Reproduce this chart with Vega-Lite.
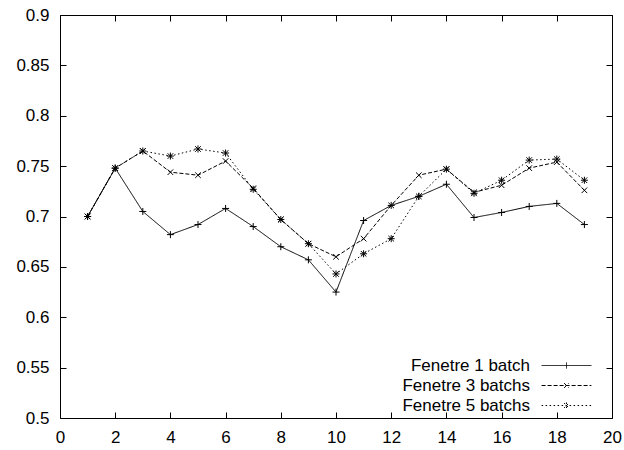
{
  "$schema": "https://vega.github.io/schema/vega-lite/v6.json",
  "width": 552,
  "height": 403,
  "autosize": {"type": "none"},
  "padding": {"left": 60, "top": 15, "right": 12, "bottom": 32},
  "background": "white",
  "config": {
    "font": "Liberation Sans",
    "view": {"stroke": "black", "strokeWidth": 1},
    "axis": {"domain": false, "grid": false, "labelFont": "Liberation Sans", "labelFontSize": 17, "labelColor": "black", "tickColor": "black", "tickSize": -6, "tickWidth": 1, "title": null},
    "point": {"filled": false, "stroke": "black", "strokeWidth": 1, "size": 49, "opacity": 1}
  },
  "data": {"values": [
    {"x": 1, "v": 0.700, "s": "Fenetre 1 batch"},
    {"x": 2, "v": 0.748, "s": "Fenetre 1 batch"},
    {"x": 3, "v": 0.705, "s": "Fenetre 1 batch"},
    {"x": 4, "v": 0.682, "s": "Fenetre 1 batch"},
    {"x": 5, "v": 0.692, "s": "Fenetre 1 batch"},
    {"x": 6, "v": 0.708, "s": "Fenetre 1 batch"},
    {"x": 7, "v": 0.690, "s": "Fenetre 1 batch"},
    {"x": 8, "v": 0.670, "s": "Fenetre 1 batch"},
    {"x": 9, "v": 0.657, "s": "Fenetre 1 batch"},
    {"x": 10, "v": 0.625, "s": "Fenetre 1 batch"},
    {"x": 11, "v": 0.696, "s": "Fenetre 1 batch"},
    {"x": 12, "v": 0.711, "s": "Fenetre 1 batch"},
    {"x": 13, "v": 0.720, "s": "Fenetre 1 batch"},
    {"x": 14, "v": 0.732, "s": "Fenetre 1 batch"},
    {"x": 15, "v": 0.699, "s": "Fenetre 1 batch"},
    {"x": 16, "v": 0.704, "s": "Fenetre 1 batch"},
    {"x": 17, "v": 0.710, "s": "Fenetre 1 batch"},
    {"x": 18, "v": 0.713, "s": "Fenetre 1 batch"},
    {"x": 19, "v": 0.692, "s": "Fenetre 1 batch"},
    {"x": 1, "v": 0.700, "s": "Fenetre 3 batchs"},
    {"x": 2, "v": 0.748, "s": "Fenetre 3 batchs"},
    {"x": 3, "v": 0.765, "s": "Fenetre 3 batchs"},
    {"x": 4, "v": 0.744, "s": "Fenetre 3 batchs"},
    {"x": 5, "v": 0.741, "s": "Fenetre 3 batchs"},
    {"x": 6, "v": 0.755, "s": "Fenetre 3 batchs"},
    {"x": 7, "v": 0.728, "s": "Fenetre 3 batchs"},
    {"x": 8, "v": 0.697, "s": "Fenetre 3 batchs"},
    {"x": 9, "v": 0.673, "s": "Fenetre 3 batchs"},
    {"x": 10, "v": 0.660, "s": "Fenetre 3 batchs"},
    {"x": 11, "v": 0.678, "s": "Fenetre 3 batchs"},
    {"x": 12, "v": 0.711, "s": "Fenetre 3 batchs"},
    {"x": 13, "v": 0.741, "s": "Fenetre 3 batchs"},
    {"x": 14, "v": 0.747, "s": "Fenetre 3 batchs"},
    {"x": 15, "v": 0.724, "s": "Fenetre 3 batchs"},
    {"x": 16, "v": 0.731, "s": "Fenetre 3 batchs"},
    {"x": 17, "v": 0.748, "s": "Fenetre 3 batchs"},
    {"x": 18, "v": 0.754, "s": "Fenetre 3 batchs"},
    {"x": 19, "v": 0.726, "s": "Fenetre 3 batchs"},
    {"x": 1, "v": 0.700, "s": "Fenetre 5 batchs"},
    {"x": 2, "v": 0.748, "s": "Fenetre 5 batchs"},
    {"x": 3, "v": 0.765, "s": "Fenetre 5 batchs"},
    {"x": 4, "v": 0.760, "s": "Fenetre 5 batchs"},
    {"x": 5, "v": 0.767, "s": "Fenetre 5 batchs"},
    {"x": 6, "v": 0.763, "s": "Fenetre 5 batchs"},
    {"x": 7, "v": 0.727, "s": "Fenetre 5 batchs"},
    {"x": 8, "v": 0.697, "s": "Fenetre 5 batchs"},
    {"x": 9, "v": 0.673, "s": "Fenetre 5 batchs"},
    {"x": 10, "v": 0.643, "s": "Fenetre 5 batchs"},
    {"x": 11, "v": 0.663, "s": "Fenetre 5 batchs"},
    {"x": 12, "v": 0.678, "s": "Fenetre 5 batchs"},
    {"x": 13, "v": 0.720, "s": "Fenetre 5 batchs"},
    {"x": 14, "v": 0.747, "s": "Fenetre 5 batchs"},
    {"x": 15, "v": 0.723, "s": "Fenetre 5 batchs"},
    {"x": 16, "v": 0.736, "s": "Fenetre 5 batchs"},
    {"x": 17, "v": 0.756, "s": "Fenetre 5 batchs"},
    {"x": 18, "v": 0.757, "s": "Fenetre 5 batchs"},
    {"x": 19, "v": 0.736, "s": "Fenetre 5 batchs"}
  ]},
  "resolve": {"axis": {"x": "independent", "y": "independent"}},
  "layer": [
    {
      "mark": {"type": "line", "stroke": "black", "strokeWidth": 1},
      "encoding": {
        "x": {"field": "x", "type": "quantitative", "scale": {"domain": [0, 20], "nice": false, "zero": false},
              "axis": {"orient": "bottom", "values": [0, 2, 4, 6, 8, 10, 12, 14, 16, 18, 20], "labelPadding": 17, "labelFlush": false, "labelOverlap": false}},
        "y": {"field": "v", "type": "quantitative", "scale": {"domain": [0.5, 0.9], "nice": false, "zero": false},
              "axis": {"orient": "left", "values": [0.5, 0.55, 0.6, 0.65, 0.7, 0.75, 0.8, 0.85, 0.9], "format": ".2~f", "labelPadding": 17, "labelFlush": false, "labelOverlap": false}},
        "detail": {"field": "s"},
        "strokeDash": {"field": "s", "type": "nominal",
          "scale": {"domain": ["Fenetre 1 batch", "Fenetre 3 batchs", "Fenetre 5 batchs"], "range": [[1, 0], [4, 2], [1.5, 2.5]]},
          "legend": {
            "title": null, "orient": "none", "legendX": 498, "legendY": 342, "padding": 0,
            "labelFont": "Liberation Sans", "labelFontSize": 17, "labelColor": "black", "labelAlign": "right", "labelOffset": -45, "labelLimit": 300,
            "symbolSize": 36, "symbolStrokeColor": "black", "symbolStrokeWidth": 1, "rowPadding": 2,
            "encode": {"symbols": {"update": {"shape": {"signal": "datum.value === 'Fenetre 1 batch' ? 'M-8.3,0L8.3,0M0,-1L0,1' : datum.value === 'Fenetre 3 batchs' ? 'M-8.3,0L8.3,0M-0.8,-0.8L0.8,0.8M-0.8,0.8L0.8,-0.8' : 'M-8.3,0L8.3,0M0,-1L0,1M-0.8,-0.8L0.8,0.8M-0.8,0.8L0.8,-0.8'"}, "fill": {"value": "transparent"}, "stroke": {"value": "black"}}}}
          }}
      }
    },
    {
      "transform": [{"filter": "datum.s === 'Fenetre 1 batch'"}],
      "mark": {"type": "point", "shape": "M-1,0L1,0M0,-1L0,1"},
      "encoding": {
        "x": {"field": "x", "type": "quantitative", "axis": {"orient": "top", "values": [0, 2, 4, 6, 8, 10, 12, 14, 16, 18, 20], "labels": false}},
        "y": {"field": "v", "type": "quantitative", "axis": {"orient": "right", "values": [0.5, 0.55, 0.6, 0.65, 0.7, 0.75, 0.8, 0.85, 0.9], "labels": false}}
      }
    },
    {
      "transform": [{"filter": "datum.s === 'Fenetre 3 batchs'"}],
      "mark": {"type": "point", "shape": "M-0.8,-0.8L0.8,0.8M-0.8,0.8L0.8,-0.8"},
      "encoding": {
        "x": {"field": "x", "type": "quantitative", "axis": null},
        "y": {"field": "v", "type": "quantitative", "axis": null}
      }
    },
    {
      "transform": [{"filter": "datum.s === 'Fenetre 5 batchs'"}],
      "mark": {"type": "point", "shape": "M-1,0L1,0M0,-1L0,1M-0.8,-0.8L0.8,0.8M-0.8,0.8L0.8,-0.8"},
      "encoding": {
        "x": {"field": "x", "type": "quantitative", "axis": null},
        "y": {"field": "v", "type": "quantitative", "axis": null}
      }
    }
  ]
}
